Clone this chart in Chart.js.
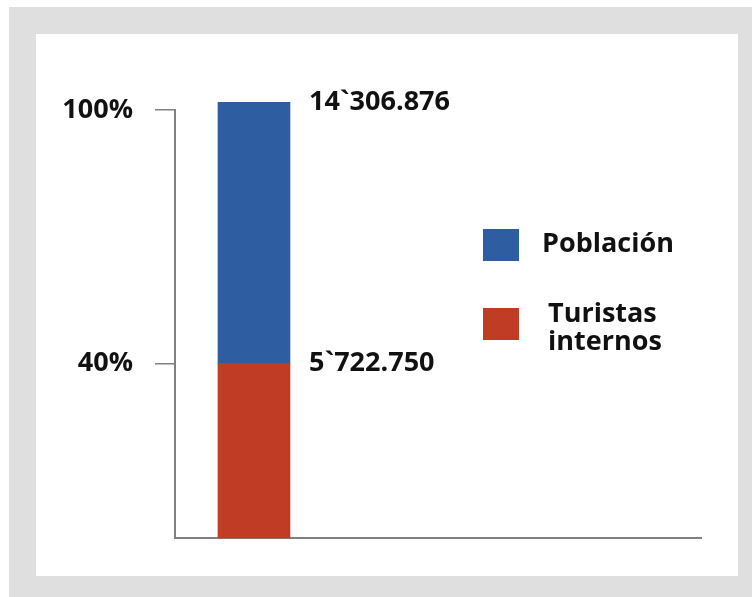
<!DOCTYPE html>
<html>
<head>
<meta charset="utf-8">
<script src="https://cdn.jsdelivr.net/npm/chart.js@4.4.1/dist/chart.umd.min.js"></script>
<style>
    html, body { margin: 0; padding: 0; background: #fff; }
    #frame { position: absolute; left: 9px; top: 7px; width: 743px; height: 590px; background: #dfdfdf; }
    #panel { position: absolute; left: 36px; top: 34px; width: 702px; height: 542px; background: #fff; }
    #chart { position: absolute; left: 0; top: 0; }
</style>
</head>
<body>
<div id="frame"></div>
<div id="panel"></div>
<canvas id="chart" width="752" height="597"></canvas>
<script>
// values (percent of the bar height)
const categories = ['Total'];
const seriesNames = ['Turistas internos', 'Población'];
const turistasValues = [40.8];
const poblacionValues = [61.0];
const valueLabels = ['5`722.750', '14`306.876'];
const tickValues = [40.8, 100];
const tickLabels = ['40%', '100%'];

const COLORS = ['#c03c25', '#2e5da1'];
const AXIS = '#808080';
const FONT = "'Open Sans', 'DejaVu Sans', sans-serif";
const TEXT_FONT = 'bold 27px ' + FONT;

const valueLabelPlugin = {
    id: 'valueLabels',
    afterDatasetsDraw(chart) {
        const ctx = chart.ctx;
        ctx.save();
        ctx.font = TEXT_FONT;
        ctx.fillStyle = '#111';
        ctx.textBaseline = 'alphabetic';
        ctx.textAlign = 'left';
        chart.data.datasets.forEach((ds, i) => {
            const el = chart.getDatasetMeta(i).data[0];
            ctx.fillText(valueLabels[i], el.x + el.width / 2 + 19, el.y + 8);
        });
        ctx.restore();
    }
};

// legend drawn by hand: Población first, then the two-line Turistas internos
const legendPlugin = {
    id: 'sideLegend',
    afterDraw(chart) {
        const ctx = chart.ctx;
        const items = [
            { ds: 1, top: 229, textX: 542, base: 252 },
            { ds: 0, top: 308, textX: 548, base: 322 }
        ];
        ctx.save();
        ctx.font = TEXT_FONT;
        items.forEach(item => {
            const ds = chart.data.datasets[item.ds];
            ctx.fillStyle = ds.backgroundColor;
            ctx.fillRect(483, item.top, 36, 32);
            ctx.fillStyle = '#111';
            ds.label.split(' ').forEach((line, j) => {
                ctx.fillText(line, item.textX, item.base + j * 28);
            });
        });
        ctx.restore();
    }
};

const ctx = document.getElementById('chart').getContext('2d');
const chart = new Chart(ctx, {
    type: 'bar',
    data: {
        datasets: [
            {
                label: seriesNames[0],
                data: categories.map((c, i) => ({ x: i, y: turistasValues[i] })),
                backgroundColor: COLORS[0],
                barThickness: 72,
                clip: false
            },
            {
                label: seriesNames[1],
                data: categories.map((c, i) => ({ x: i, y: poblacionValues[i] })),
                backgroundColor: COLORS[1],
                barThickness: 72,
                clip: false
            }
        ]
    },
    options: {
        responsive: false,
        animation: false,
        layout: { padding: { left: 0, top: 110, right: 51, bottom: 59 } },
        plugins: {
            legend: { display: false },
            tooltip: { enabled: false }
        },
        scales: {
            x: {
                type: 'linear',
                stacked: true,
                offset: false,
                min: -0.5,
                max: 2.83,
                ticks: { display: false },
                grid: { display: false },
                border: { display: true, color: AXIS, width: 2 },
                afterFit: s => { s.height = 0; }
            },
            y: {
                stacked: true,
                min: 0,
                max: 100,
                afterBuildTicks: s => { s.ticks = tickValues.map(v => ({ value: v })); },
                afterFit: s => { s.width = 175; },
                ticks: {
                    padding: 22,
                    color: '#111',
                    font: { family: FONT, size: 27, weight: 'bold' },
                    callback: (v, i) => tickLabels[i]
                },
                grid: {
                    drawOnChartArea: false,
                    drawTicks: true,
                    tickLength: 20,
                    color: AXIS,
                    lineWidth: 1.5
                },
                border: { display: true, color: AXIS, width: 2 }
            }
        }
    },
    plugins: [valueLabelPlugin, legendPlugin]
});
</script>
</body>
</html>
